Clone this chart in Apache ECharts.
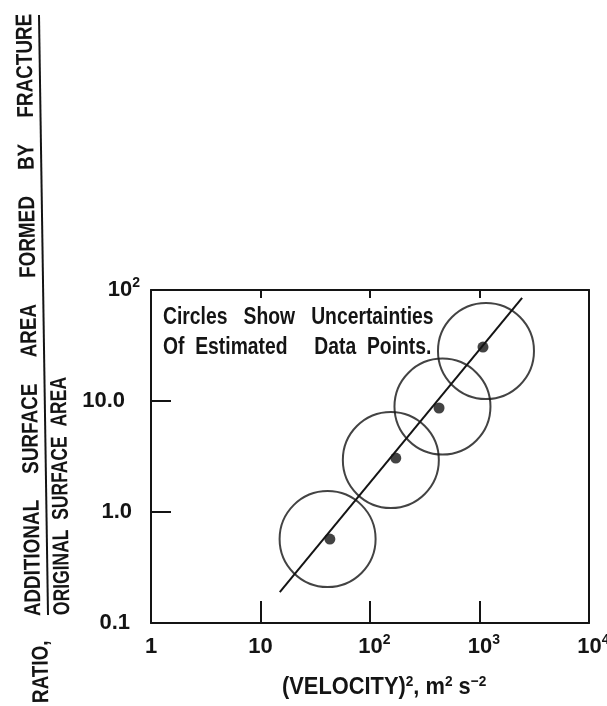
<!DOCTYPE html>
<html>
<head>
<meta charset="utf-8">
<script src="https://cdn.jsdelivr.net/npm/echarts@6/dist/echarts.min.js"></script>
<style>
html,body{margin:0;padding:0;background:#fff;}
#chart{width:607px;height:706px;}
</style>
</head>
<body>
<div id="chart"></div>
<script>
// ---- data ----
const pointX = [43, 172, 427, 1076];
const pointY = [0.57, 3.06, 8.65, 30.6];
const circleX = [41, 155, 459, 1146];
const circleY = [0.57, 2.94, 8.9, 28.2];
const fitX = [15, 2450];
const fitY = [0.19, 85];
const xTickValues = [1, 10, 100, 1000, 10000];
const xTickLabels = ['1', '10', '10^2', '10^3', '10^4'];
const yTickValues = [0.1, 1, 10, 100];
const yTickLabels = ['0.1', '1.0', '10.0', '10^2'];
const annotation = ['Circles   Show   Uncertainties', 'Of  Estimated     Data  Points.'];
const yTitleTop = 'ADDITIONAL     SURFACE     AREA     FORMED     BY     FRACTURE';
const yTitleBottom = 'ORIGINAL  SURFACE  AREA';
const yTitlePrefix = 'RATIO,';

// layout-only settings
const SANS = "'Liberation Sans', Arial, sans-serif";
const INK = '#141414';
const yLabelPadRight = { '0.1': 10, '1.0': 8, '10.0': 15, '10^2': 0 };

function toRich(lbl, padKey) {
  if (lbl.indexOf('^') >= 0) {
    const p = lbl.split('^');
    return '{b|' + p[0] + '}{s|' + p[1] + '}';
  }
  return '{' + (padKey || 'n') + '|' + lbl + '}';
}
function labelFor(values, labels, v, isY) {
  for (let i = 0; i < values.length; i++) {
    if (Math.abs(Math.log10(v) - Math.log10(values[i])) < 1e-6) {
      return toRich(labels[i], isY ? 'p' + i : null);
    }
  }
  return '';
}

const baseTxt = { fontSize: 22, fontFamily: SANS, fontWeight: 'bold', color: INK, lineHeight: 28 };
const supTxt = { fontSize: 14, fontFamily: SANS, fontWeight: 'bold', color: INK, verticalAlign: 'top', lineHeight: 16 };
const xTickRich = {
  n: baseTxt,
  b: Object.assign({}, baseTxt, { padding: [0, 0, 0, 9] }),
  s: supTxt
};
const yTickRich = { b: baseTxt, s: supTxt };
yTickLabels.forEach((l, i) => {
  yTickRich['p' + i] = Object.assign({}, baseTxt, { padding: [0, yLabelPadRight[l] || 0, 0, 0] });
});

const chart = echarts.init(document.getElementById('chart'));
const option = {
  animation: false,
  backgroundColor: '#ffffff',
  grid: { left: 151, right: 18, top: 290, bottom: 83, show: false, outerBoundsMode: 'none', containLabel: false },
  xAxis: [{
    type: 'log', logBase: 10, min: 1, max: 10000, position: 'bottom',
    axisLine: { show: true, lineStyle: { color: INK, width: 2 } },
    axisTick: { show: true, inside: true, length: 22, lineStyle: { color: INK, width: 2 } },
    minorTick: { show: false },
    splitLine: { show: false },
    axisLabel: {
      margin: 10, color: INK, fontFamily: SANS, hideOverlap: false,
      formatter: v => labelFor(xTickValues, xTickLabels, v, false),
      rich: xTickRich
    }
  }, {
    type: 'log', logBase: 10, min: 1, max: 10000, position: 'top',
    axisLine: { show: true, lineStyle: { color: INK, width: 2 } },
    axisTick: { show: true, inside: true, length: 8, lineStyle: { color: INK, width: 2 } },
    axisLabel: { show: false }, splitLine: { show: false }
  }],
  yAxis: [{
    type: 'log', logBase: 10, min: 0.1, max: 100, position: 'left',
    axisLine: { show: true, lineStyle: { color: INK, width: 2 } },
    axisTick: { show: true, inside: true, length: 20, lineStyle: { color: INK, width: 2 } },
    splitLine: { show: false },
    axisLabel: {
      margin: 11, color: INK, fontFamily: SANS,
      formatter: v => labelFor(yTickValues, yTickLabels, v, true),
      rich: yTickRich
    }
  }, {
    type: 'log', logBase: 10, min: 0.1, max: 100, position: 'right',
    axisLine: { show: true, lineStyle: { color: INK, width: 2 } },
    axisTick: { show: false }, axisLabel: { show: false }, splitLine: { show: false }
  }],
  series: [
    {
      type: 'line', xAxisIndex: 0, yAxisIndex: 0,
      data: fitX.map((x, i) => [x, fitY[i]]),
      symbol: 'none', lineStyle: { color: INK, width: 2 }, silent: true
    },
    {
      type: 'scatter', xAxisIndex: 0, yAxisIndex: 0,
      data: circleX.map((x, i) => [x, circleY[i]]),
      symbol: 'circle', symbolSize: 96,
      itemStyle: { color: 'rgba(0,0,0,0)', borderColor: INK, borderWidth: 2 }, silent: true
    },
    {
      type: 'scatter', xAxisIndex: 0, yAxisIndex: 0,
      data: pointX.map((x, i) => [x, pointY[i]]),
      symbol: 'circle', symbolSize: 11,
      itemStyle: { color: INK }, silent: true
    }
  ],
  graphic: [
    { type: 'text', x: 163, y: 318, scaleX: 0.84,
      style: { text: annotation[0], font: 'bold 23px ' + SANS, fill: INK, verticalAlign: 'middle' } },
    { type: 'text', x: 163, y: 348, scaleX: 0.84,
      style: { text: annotation[1], font: 'bold 23px ' + SANS, fill: INK, verticalAlign: 'middle' } },
    { type: 'text', x: 29.5, y: 315, rotation: Math.PI / 2 + 0.015, scaleX: 0.82,
      style: { text: yTitleTop, font: 'bold 23px ' + SANS, fill: INK, align: 'center', verticalAlign: 'middle' } },
    { type: 'line', shape: { x1: 39, y1: 15, x2: 48, y2: 615 }, style: { stroke: INK, lineWidth: 2 } },
    { type: 'text', x: 63, y: 615, rotation: Math.PI / 2 + 0.015, scaleX: 0.76,
      style: { text: yTitleBottom, font: 'bold 23px ' + SANS, fill: INK, align: 'left', verticalAlign: 'middle' } },
    { type: 'text', x: 42, y: 703, rotation: Math.PI / 2 + 0.015, scaleX: 0.82,
      style: { text: yTitlePrefix, font: 'bold 23px ' + SANS, fill: INK, align: 'left', verticalAlign: 'middle' } },
    { type: 'text', x: 282, y: 674, scaleX: 0.91,
      style: {
        text: '{b|(VELOCITY)}{s|2}{b|, m}{s|2}{b| s}{s|\u22122}',
        rich: {
          b: { fontSize: 24, fontFamily: SANS, fontWeight: 'bold', fill: INK, lineHeight: 26 },
          s: { fontSize: 15, fontFamily: SANS, fontWeight: 'bold', fill: INK, verticalAlign: 'top', lineHeight: 14 }
        }
      } }
  ]
};
chart.setOption(option);
</script>
</body>
</html>
